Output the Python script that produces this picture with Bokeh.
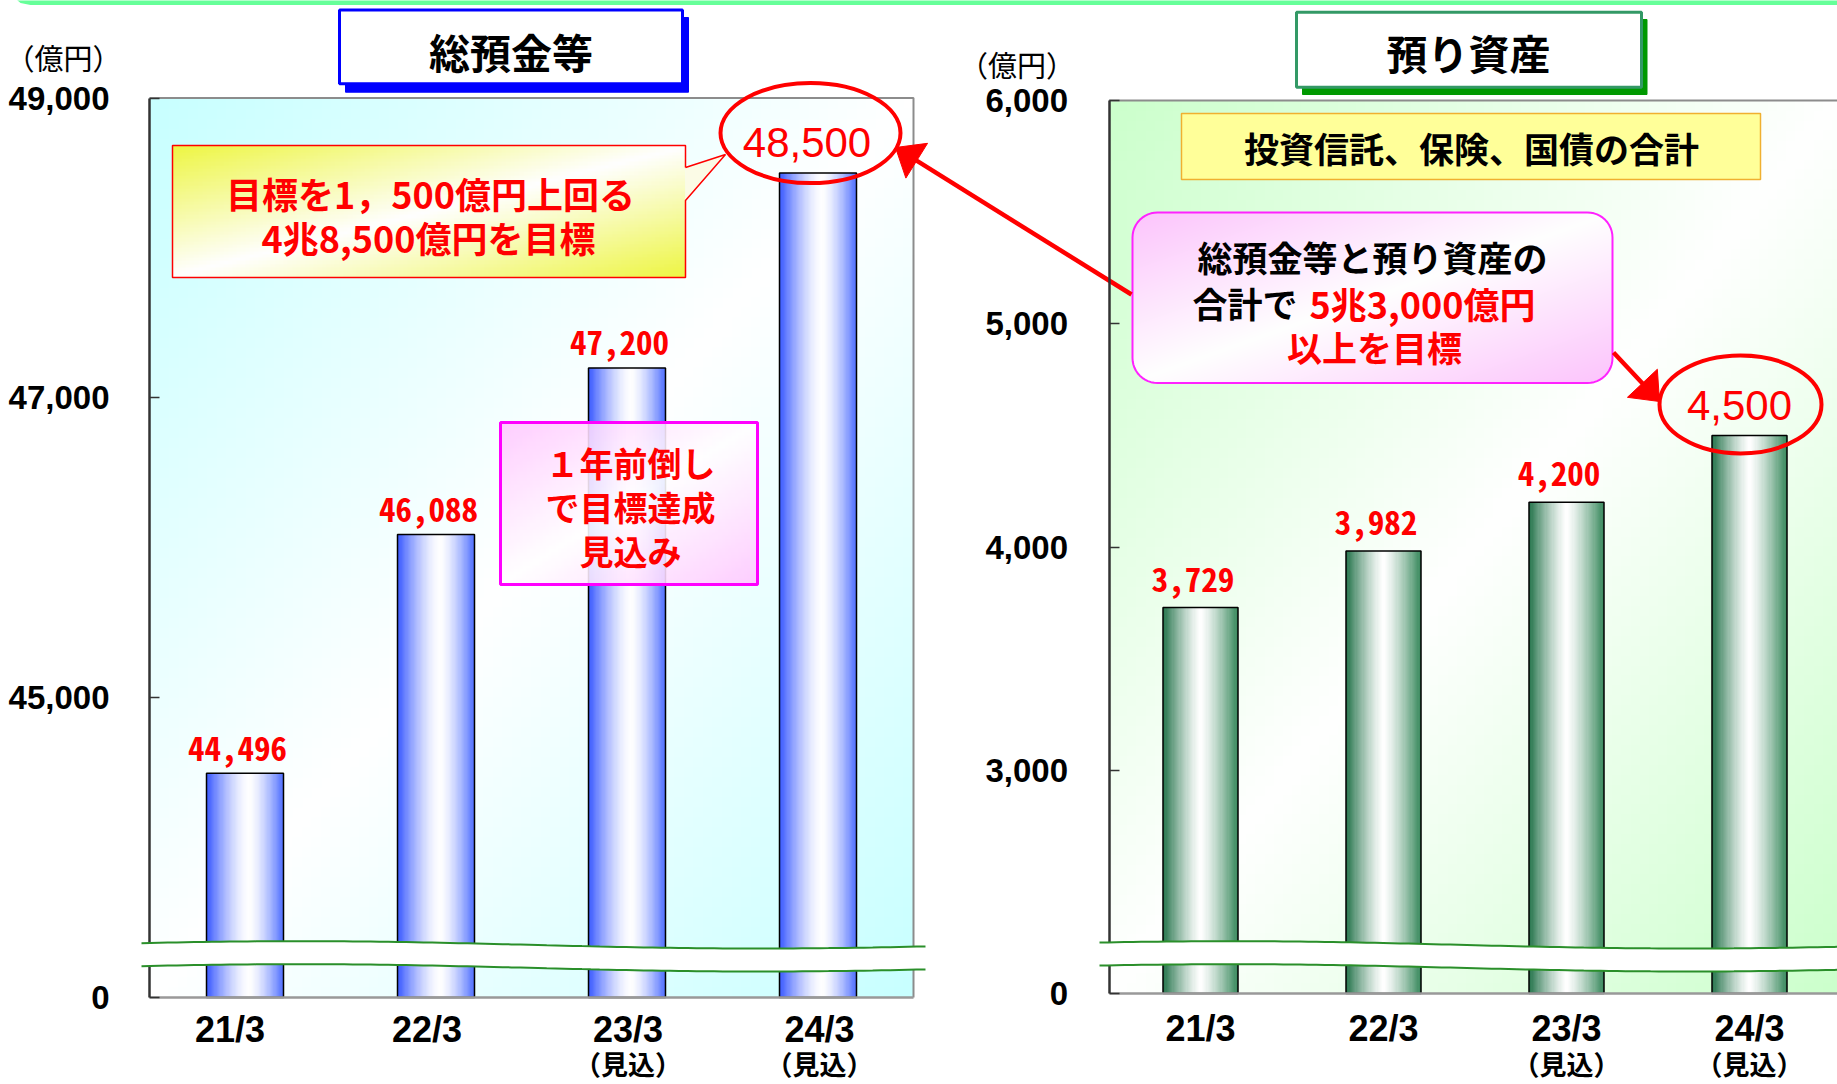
import numpy as np
from bokeh.plotting import figure
from bokeh.models import Range1d, LinearAxis, FixedTicker
from bokeh.core.properties import value
from bokeh.embed import file_html
from bokeh.resources import INLINE

# ---------------- data ----------------
periods = ["21/3", "22/3", "23/3", "24/3"]
period_notes = ["", "", "（見込）", "（見込）"]
deposits = [44496, 46088, 47200, 48500]          # 総預金等 (億円)
assets = [3729, 3982, 4200, 4500]                # 預り資産 (億円)
deposit_ticks = [43000, 45000, 47000, 49000]     # 43000 = broken-axis floor shown as "0"
deposit_tick_labels = ["0", "45,000", "47,000", "49,000"]
asset_ticks = [2000, 3000, 4000, 5000, 6000]     # 2000 = broken-axis floor shown as "0"
asset_tick_labels = ["0", "3,000", "4,000", "5,000", "6,000"]
unit_text = "（億円）"
deposit_title = "総預金等"
asset_title = "預り資産"
deposit_goal_lines = ["目標を1，500億円上回る", "4兆8,500億円を目標"]
early_lines = ["１年前倒し", "で目標達成", "見込み"]
asset_note = "投資信託、保険、国債の合計"
total_line1 = "総預金等と預り資産の"
total_line2_black = "合計で"
total_line2_red = "5兆3,000億円"
total_line3 = "以上を目標"

# ---------------- geometry (canvas pixels) ----------------
W, H = 1837, 1084
LX0, LSTEP = 149.0, 191.0      # deposits chart: x=0 position, px per category
LY0, LPPU = 997.0, 0.1499      # deposits chart: floor position, px per unit
RX0, RSTEP = 1108.5, 183.0     # assets chart
RY0, RPPU = 993.0, 0.22325
LFLOOR, RFLOOR = deposit_ticks[0], asset_ticks[0]
N = len(periods)


def X(px):
    return (np.asarray(px, float) - LX0) / LSTEP


def Y(py):
    return LFLOOR + (LY0 - np.asarray(py, float)) / LPPU


def XR(px):
    return (px - RX0) / RSTEP


def YR(py):
    return RFLOOR + (RY0 - py) / RPPU


JP = "Noto Sans CJK JP"
LAT = "Liberation Sans"
MONO = "Noto Sans Mono CJK JP, DejaVu Sans Mono"

p = figure(width=W, height=H, title=None,
           x_range=Range1d(float(X(0)), float(X(W))),
           y_range=Range1d(float(Y(H)), float(Y(0))),
           output_backend="svg", toolbar_location=None,
           min_border_left=0, min_border_right=0, min_border_top=0, min_border_bottom=0)
p.extra_x_ranges = {"r": Range1d(XR(0), XR(W))}
p.extra_y_ranges = {"r": Range1d(YR(H), YR(0))}
p.grid.visible = False
p.outline_line_color = None
p.background_fill_color = "white"
p.border_fill_color = "white"


# ---------------- helpers ----------------
def rgba_img(rgb, alpha=None):
    rows, cols, _ = rgb.shape
    arr = np.zeros((rows, cols, 4), np.uint8)
    arr[..., :3] = np.clip(rgb, 0, 255).astype(np.uint8)
    arr[..., 3] = 255 if alpha is None else alpha
    arr = np.ascontiguousarray(arr[::-1])
    return arr.view(np.uint32).reshape(rows, cols)


def diag_gradient(rows, cols, corner, power=1.0):
    t = np.linspace(0, 1, rows)[:, None]
    u = np.linspace(0, 1, cols)[None, :]
    w = (np.abs((u + t) / 2 - 0.5) * 2) ** power
    c = np.array(corner, float)
    return 255.0 * (1 - w[..., None]) + c * w[..., None]


def bar_gradient(edge_l, edge_r, center=0.55, power=1.5, n=64):
    f = np.linspace(0, 1, n)
    w = np.where(f < center, (center - f) / center, (f - center) / (1 - center)) ** power
    edge = np.where((f < center)[:, None], np.array(edge_l, float), np.array(edge_r, float))
    rgb = 255.0 * (1 - w[:, None]) + edge * w[:, None]
    return rgba_img(rgb[None, :, :])


def img_px(img, l, t, r, b, **kw):
    p.image_rgba(image=[img], x=float(X(l)), y=float(Y(b)),
                 dw=float(X(r) - X(l)), dh=float(Y(t) - Y(b)), **kw)


def quad_px(l, t, r, b, **kw):
    p.quad(left=float(X(l)), right=float(X(r)), top=float(Y(t)), bottom=float(Y(b)), **kw)


def line_px(pts, **kw):
    p.line([float(X(a)) for a, _ in pts], [float(Y(b)) for _, b in pts], **kw)


def patch_px(pts, **kw):
    p.patch([float(X(a)) for a, _ in pts], [float(Y(b)) for _, b in pts], **kw)


def text_px(x, y, s, size, color="black", bold=True, align="center", font=JP):
    p.text(x=[float(X(x))], y=[float(Y(y))], text=[s], text_font=value(font),
           text_font_size=size, text_font_style="bold" if bold else "normal",
           text_color=color, text_align=align, text_baseline="middle")


def rounded_pts(l, t, r, b, rad, n=12):
    pts = []
    for cx, cy, a0 in [(r - rad, t + rad, -90), (r - rad, b - rad, 0),
                       (l + rad, b - rad, 90), (l + rad, t + rad, 180)]:
        for k in range(n + 1):
            a = np.radians(a0 + 90 * k / n)
            pts.append((cx + rad * np.cos(a), cy + rad * np.sin(a)))
    pts.append(pts[0])
    return pts


def arrow_px(x0, y0, tx, ty, head_len=25, head_w=41, width=4.5):
    dx, dy = tx - x0, ty - y0
    L = np.hypot(dx, dy)
    ux, uy = dx / L, dy / L
    bx, by = tx - ux * head_len, ty - uy * head_len
    nx, ny = -uy, ux
    line_px([(x0, y0), (bx + ux * 2, by + uy * 2)], line_color="red", line_width=width)
    patch_px([(tx, ty), (bx + nx * head_w / 2, by + ny * head_w / 2),
              (bx - nx * head_w / 2, by - ny * head_w / 2)],
             fill_color="red", line_color="red", line_width=1)


# ---------------- axes (all at fixed locations inside the canvas-wide frame) ----------------
def style_axis(ax, font, size, bold=True, color="black"):
    ax.major_label_text_font = font
    ax.major_label_text_font_size = size
    ax.major_label_text_font_style = "bold" if bold else "normal"
    ax.major_label_text_color = color
    ax.minor_tick_line_color = None


def y_axis(ax, ticks, labels, standoff):
    ax.ticker = FixedTicker(ticks=ticks)
    ax.major_label_overrides = dict(zip(ticks, labels))
    ax.bounds = (ticks[0], ticks[-1])
    ax.axis_line_color = "#333333"
    ax.axis_line_width = 2.5
    ax.major_tick_in = 10
    ax.major_tick_out = 0
    ax.major_tick_line_color = "#333333"
    ax.major_tick_line_width = 1.5
    ax.major_label_standoff = standoff
    style_axis(ax, LAT, "33px")


def x_axis(ax, ticks, standoff):
    ax.ticker = FixedTicker(ticks=ticks)
    ax.major_label_overrides = dict(zip(ticks, periods))
    ax.bounds = (0, N)
    ax.axis_line_color = "#999999"
    ax.axis_line_width = 2.5
    ax.major_tick_line_color = None
    ax.major_tick_in = 0
    ax.major_tick_out = 0
    ax.major_label_standoff = standoff
    style_axis(ax, LAT, "36px")


def plain_axis(ax, standoff, font, size, bold):
    ax.axis_line_color = None
    ax.major_tick_line_color = None
    ax.major_tick_in = 0
    ax.major_tick_out = 0
    ax.major_label_standoff = standoff
    style_axis(ax, font, size, bold=bold)


tick_x = [i + 0.5 for i in range(N)]
# label anchors of the deposits chart sit slightly left of the bar centres in the original
label_shift_px = [-15, -9, 1, 1.5]
left_label_x = [round(c + s / LSTEP, 4) for c, s in zip(tick_x, label_shift_px)]
note_ticks_l = [t for t, n in zip(left_label_x, period_notes) if n]
note_ticks_r = [t for t, n in zip(tick_x, period_notes) if n]
note_labels = [n for n in period_notes if n]

ya = p.yaxis[0]
ya.fixed_location = float(X(LX0))
y_axis(ya, deposit_ticks, deposit_tick_labels, 40)
xa = p.xaxis[0]
xa.fixed_location = float(LFLOOR)
x_axis(xa, left_label_x, 11)

u_l = int(round(float(Y(56.5))))
ua = LinearAxis(fixed_location=float(X(LX0)), ticker=FixedTicker(ticks=[u_l]),
                major_label_overrides={u_l: unit_text})
plain_axis(ua, 28, JP, "29px", False)
p.add_layout(ua, "left")

ra = LinearAxis(y_range_name="r", fixed_location=float(X(RX0)))
y_axis(ra, asset_ticks, asset_tick_labels, 41)
p.add_layout(ra, "left")
u_r = int(round(YR(63.5)))
ur = LinearAxis(y_range_name="r", fixed_location=float(X(RX0)), ticker=FixedTicker(ticks=[u_r]),
                major_label_overrides={u_r: unit_text})
plain_axis(ur, 34, JP, "29px", False)
p.add_layout(ur, "left")
rx = LinearAxis(x_range_name="r", fixed_location=float(Y(RY0)))
x_axis(rx, tick_x, 14)
p.add_layout(rx, "below")

for rname, loc, nt, so in [(None, float(LFLOOR), note_ticks_l, 46),
                           ("r", float(Y(RY0)), note_ticks_r, 50)]:
    na = LinearAxis(fixed_location=loc, ticker=FixedTicker(ticks=nt),
                    major_label_overrides=dict(zip(nt, note_labels)))
    if rname:
        na.x_range_name = rname
    plain_axis(na, so, JP, "27px", True)
    p.add_layout(na, "below")

# ---------------- page top border ----------------
patch_px([(16, -1), (20, 2.5), (30, 4.5), (W + 2, 4.5), (W + 2, -1)],
         fill_color="#66ff99", line_color=None)

# ---------------- chart backgrounds ----------------
p.image_rgba(image=[rgba_img(diag_gradient(90, 80, (200, 255, 255)))],
             x=0, y=LFLOOR, dw=N, dh=deposit_ticks[-1] - LFLOOR)
p.image_rgba(image=[rgba_img(diag_gradient(90, 80, (204, 255, 204)))],
             x=0, y=RFLOOR, dw=N, dh=asset_ticks[-1] - RFLOOR,
             x_range_name="r", y_range_name="r")
p.line([0, N, N], [deposit_ticks[-1], deposit_ticks[-1], LFLOOR],
       line_color="#8c8c8c", line_width=2)
p.line([0, N], [asset_ticks[-1], asset_ticks[-1]], x_range_name="r", y_range_name="r",
       line_color="#8c8c8c", line_width=2)

# ---------------- bars ----------------
bw_l = 77 / LSTEP
blue = bar_gradient((60, 92, 255), (80, 112, 255), center=0.55, power=1.5)
p.image_rgba(image=[blue] * N, x=[c - bw_l / 2 for c in tick_x], y=[LFLOOR] * N,
             dw=[bw_l] * N, dh=[v - LFLOOR for v in deposits])
p.vbar(x=tick_x, width=bw_l, bottom=LFLOOR, top=deposits,
       fill_color=None, line_color="black", line_width=1.5)

bw_r = 75 / RSTEP
green = bar_gradient((40, 118, 78), (58, 138, 94), center=0.5, power=1.3)
p.image_rgba(image=[green] * N, x=[c - bw_r / 2 for c in tick_x], y=[RFLOOR] * N,
             dw=[bw_r] * N, dh=[v - RFLOOR for v in assets],
             x_range_name="r", y_range_name="r")
p.vbar(x=tick_x, width=bw_r, bottom=RFLOOR, top=assets, x_range_name="r", y_range_name="r",
       fill_color=None, line_color="black", line_width=1.5)

# value labels
p.text(x=[c - 7.5 / LSTEP for c in tick_x[:-1]], y=[v + 25 / LPPU for v in deposits[:-1]],
       text=[f"{v:,}" for v in deposits[:-1]], text_font=value(MONO), text_font_style="bold",
       text_font_size="33px", text_color="red", text_align="center", text_baseline="middle")
p.text(x=[c - 7.5 / RSTEP for c in tick_x[:-1]], y=[v + 28.5 / RPPU for v in assets[:-1]],
       text=[f"{v:,}" for v in assets[:-1]], text_font=value(MONO), text_font_style="bold",
       text_font_size="33px", text_color="red", text_align="center", text_baseline="middle",
       x_range_name="r", y_range_name="r")

# ---------------- left annotations ----------------
img_px(rgba_img(diag_gradient(40, 120, (238, 246, 70))), 172, 145, 685, 277)
patch_px([(685, 167), (725, 154), (685, 200)], fill_color="#fbfbe6", line_color=None)
line_px([(685, 167), (685, 145), (172, 145), (172, 277), (685, 277), (685, 200),
         (725, 154), (685, 167)], line_color="red", line_width=1.5)
text_px(430, 192.5, deposit_goal_lines[0], "36px", color="red")
text_px(428, 236.5, deposit_goal_lines[1], "36px", color="red")

img_px(rgba_img(diag_gradient(50, 80, (255, 200, 255)), alpha=226), 500, 422, 757, 584)
quad_px(500, 422, 757, 584, fill_color=None, line_color="#ff00ff", line_width=3)
for k, s in enumerate(early_lines):
    text_px(630, 462 + k * 44, s, "34px", color="red")

quad_px(345, 17, 688, 91.7, fill_color="#0000ff", line_color="#0000ff", line_width=1)
quad_px(339, 9.5, 682, 83.3, fill_color="white", line_color="#0000ff", line_width=3)
text_px(510.5, 50, deposit_title, "41px")

# ---------------- right annotations ----------------
quad_px(1302, 19, 1646.5, 94, fill_color="#009900", line_color="#009900", line_width=1)
quad_px(1296, 11.7, 1641, 86.7, fill_color="white", line_color="#339966", line_width=3)
text_px(1468, 51, asset_title, "41px")

quad_px(1181, 113, 1760, 179, fill_color="#ffff99", line_color="#f0b030", line_width=1.5)
text_px(1471, 147, asset_note, "35px")

bl, bt, br, bb, rad = 1132, 212, 1612, 382.5, 25
rows, cols = int(bb - bt), int(br - bl)
yy = bt + np.arange(rows)[:, None] + 0.5
xx = bl + np.arange(cols)[None, :] + 0.5
cx = np.clip(xx, bl + rad, br - rad)
cy = np.clip(yy, bt + rad, bb - rad)
inside = np.hypot(xx - cx, yy - cy) <= rad
img_px(rgba_img(diag_gradient(rows, cols, (252, 196, 252)),
                alpha=np.where(inside, 255, 0).astype(np.uint8)), bl, bt, br, bb)
line_px(rounded_pts(bl, bt, br, bb, rad), line_color="#ff22ff", line_width=2)
text_px(1372, 256, total_line1, "35px")
text_px(1297, 302, total_line2_black, "35px", align="right")
text_px(1309, 302, total_line2_red, "36px", color="red", align="left")
text_px(1374, 346, total_line3, "35px", color="red")

# ---------------- highlighted final values ----------------
p.ellipse(x=[tick_x[-1] - 7.5 / LSTEP], y=[deposits[-1] + 40 / LPPU], width=180, height=100,
          width_units="screen", height_units="screen", fill_color=None,
          line_color="red", line_width=4)
p.text(x=[tick_x[-1] - 11 / LSTEP], y=[deposits[-1] + 31 / LPPU], text=[f"{deposits[-1]:,}"],
       text_font=value(LAT), text_font_size="42px", text_color="red",
       text_align="center", text_baseline="middle")
p.ellipse(x=[tick_x[-1] - 9 / RSTEP], y=[assets[-1] + 31 / RPPU], width=162, height=98,
          width_units="screen", height_units="screen", fill_color=None,
          line_color="red", line_width=4, x_range_name="r", y_range_name="r")
p.text(x=[tick_x[-1] - 10 / RSTEP], y=[assets[-1] + 30 / RPPU], text=[f"{assets[-1]:,}"],
       text_font=value(LAT), text_font_size="42px", text_color="red",
       text_align="center", text_baseline="middle", x_range_name="r", y_range_name="r")

arrow_px(1131, 294, 895, 147)
arrow_px(1613, 352, 1659, 401)


# ---------------- axis break bands ----------------
def band(x0, x1, phase):
    xs = np.linspace(x0, x1, 90)
    top = 944.35 + 3.65 * np.cos(2 * np.pi * (xs - phase) / 920)
    bot = top + 23
    p.patch(list(X(np.r_[xs, xs[::-1]])), list(Y(np.r_[top, bot[::-1]])),
            fill_color="white", line_color=None, level="overlay")
    p.line(list(X(xs)), list(Y(top)), line_color="#2a8f2a", line_width=2, level="overlay")
    p.line(list(X(xs)), list(Y(bot)), line_color="#2a8f2a", line_width=2, level="overlay")


band(141, 925, 760)
band(1099, W + 5, 1690)

open("out.html", "w").write(file_html(p, INLINE))
